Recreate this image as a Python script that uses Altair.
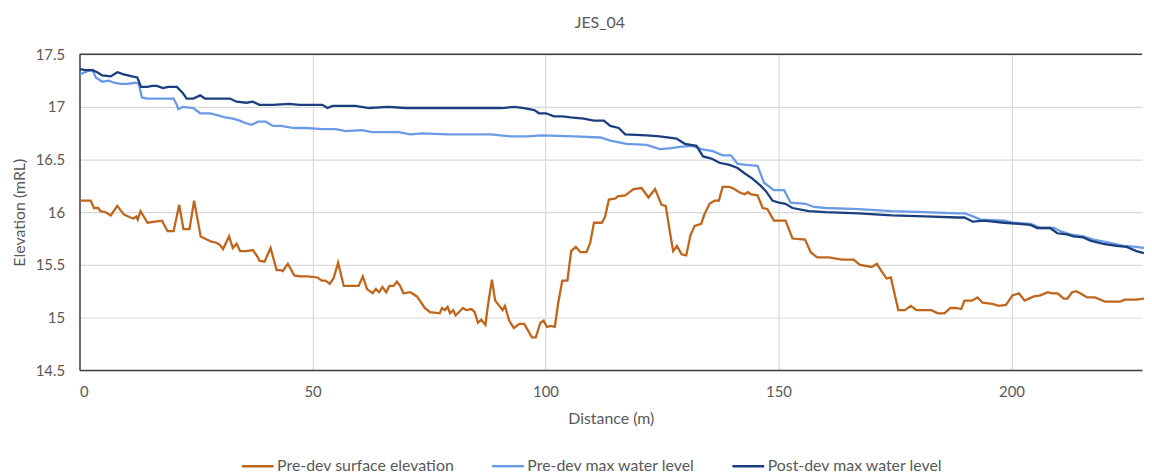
import altair as alt
import pandas as pd

SERIES = ["Pre-dev surface elevation", "Pre-dev max water level", "Post-dev max water level"]
COLORS = ["#C0651C", "#6B9BE4", "#1B3F7E"]

X_TICKS = [0, 50, 100, 150, 200]
Y_TICKS = [14.5, 15, 15.5, 16, 16.5, 17, 17.5]
TOP = [17.5]

ORANGE_X = [0.1, 2.4, 3.1, 4.0, 4.5, 5.6, 6.7, 8.1, 9.5, 10.9, 11.6, 12.2, 12.5, 13.1, 14.6, 17.7, 18.9, 20.2,
            21.4, 22.3, 23.6, 24.6, 26.0, 27.3, 28.3, 29.4, 30.1, 30.8, 32.1, 32.9, 33.7, 34.5, 35.8, 37.2, 38.3,
            38.6, 39.7, 41.0, 42.3, 43.2, 43.6, 44.7, 46.1, 47.2, 48.9, 51.1, 52.0, 52.8, 53.7, 54.5, 55.5, 56.7,
            57.8, 59.9, 60.8, 61.7, 62.9, 63.6, 64.3, 65.0, 65.8, 66.5, 67.4, 68.1, 68.8, 69.5, 71.0, 72.4, 74.1,
            75.2, 77.3, 77.8, 78.4, 79.0, 79.5, 80.2, 80.7, 81.4, 82.3, 83.0, 84.1, 84.8, 85.5, 86.2, 87.1, 87.6,
            88.5, 89.2, 90.1, 90.8, 91.3, 92.2, 93.2, 94.4, 95.4, 96.2, 97.1, 97.9, 98.9, 99.6, 100.3, 101.1,
            102.0, 102.7, 103.6, 104.7, 105.5, 106.5, 107.5, 108.8, 109.6, 110.4, 112.1, 112.8, 113.6, 115.0,
            115.5, 117.1, 118.9, 120.6, 122.1, 123.5, 124.9, 125.8, 126.7, 127.4, 128.2, 129.2, 130.2, 131.1,
            132.0, 133.4, 134.1, 135.2, 136.3, 137.2, 138.0, 139.5, 140.5, 141.6, 142.7, 143.4, 144.1, 145.5,
            146.6, 147.6, 149.0, 151.5, 153.0, 155.7, 156.9, 158.3, 160.8, 163.6, 166.1, 167.5, 170.0, 171.1,
            172.1, 173.2, 174.1, 175.7, 177.1, 178.4, 179.6, 182.8, 184.2, 185.6, 186.9, 188.1, 189.2, 189.9,
            191.5, 192.7, 193.8, 195.9, 197.3, 198.8, 200.2, 201.6, 202.8, 204.8, 206.2, 207.8, 208.7, 209.9,
            211.2, 212.0, 213.0, 213.9, 215.1, 216.2, 217.9, 220.1, 223.3, 224.3, 226.8, 228.4]
ORANGE_Y = [16.11, 16.11, 16.04, 16.04, 16.01, 16.00, 15.97, 16.06, 15.98, 15.95, 15.94, 15.96, 15.93, 16.01,
            15.90, 15.92, 15.82, 15.82, 16.07, 15.84, 15.84, 16.11, 15.77, 15.74, 15.72, 15.71, 15.69, 15.65,
            15.77, 15.66, 15.70, 15.63, 15.63, 15.64, 15.57, 15.54, 15.53, 15.66, 15.45, 15.45, 15.44, 15.51,
            15.40, 15.39, 15.39, 15.38, 15.35, 15.35, 15.32, 15.37, 15.52, 15.30, 15.30, 15.30, 15.39, 15.27,
            15.23, 15.27, 15.24, 15.29, 15.24, 15.30, 15.30, 15.34, 15.30, 15.23, 15.24, 15.20, 15.09, 15.05,
            15.04, 15.09, 15.07, 15.10, 15.04, 15.07, 15.02, 15.05, 15.09, 15.07, 15.08, 15.05, 14.95, 14.98,
            14.93, 15.10, 15.36, 15.16, 15.11, 15.07, 15.11, 14.97, 14.90, 14.94, 14.94, 14.88, 14.81, 14.81,
            14.95, 14.97, 14.91, 14.92, 14.91, 15.13, 15.35, 15.35, 15.63, 15.67, 15.62, 15.62, 15.71, 15.90,
            15.90, 15.96, 16.12, 16.13, 16.15, 16.16, 16.22, 16.23, 16.14, 16.22, 16.07, 16.06, 15.81, 15.63,
            15.68, 15.60, 15.59, 15.78, 15.87, 15.89, 15.98, 16.08, 16.11, 16.11, 16.24, 16.24, 16.22, 16.19,
            16.17, 16.19, 16.17, 16.16, 16.04, 16.03, 15.92, 15.92, 15.75, 15.74, 15.62, 15.57, 15.57, 15.55,
            15.55, 15.50, 15.48, 15.51, 15.44, 15.37, 15.38, 15.07, 15.07, 15.11, 15.07, 15.07, 15.04, 15.04,
            15.09, 15.09, 15.08, 15.16, 15.16, 15.19, 15.14, 15.13, 15.11, 15.12, 15.21, 15.23, 15.16, 15.20,
            15.21, 15.24, 15.23, 15.23, 15.18, 15.18, 15.24, 15.25, 15.22, 15.19, 15.19, 15.15, 15.15, 15.17,
            15.17, 15.18]

PRE_WL_X = [0.1, 1.7, 2.8, 3.5, 4.9, 6.3, 7.4, 8.8, 10.2, 12.0, 12.7, 13.4, 14.5, 16.6, 20.2, 20.9, 21.2, 22.2,
            24.4, 25.9, 28.0, 29.8, 31.2, 32.9, 34.4, 35.4, 36.9, 38.3, 40.0, 41.5, 43.2, 46.1, 48.6, 52.1, 55.0,
            57.1, 60.6, 62.8, 64.9, 68.5, 71.0, 73.4, 79.1, 88.3, 92.6, 96.2, 99.0, 106.1, 111.8, 113.9, 117.4,
            121.7, 124.5, 127.0, 128.8, 131.6, 133.4, 135.9, 138.0, 139.8, 141.2, 143.0, 145.5, 146.9, 149.0,
            151.2, 152.6, 155.8, 157.6, 160.1, 167.2, 174.3, 181.4, 188.5, 189.9, 191.7, 193.4, 198.4, 200.5,
            204.1, 206.2, 209.1, 210.5, 212.6, 215.4, 217.6, 221.1, 224.0, 226.8, 228.4]
PRE_WL_Y = [17.31, 17.34, 17.35, 17.28, 17.24, 17.25, 17.23, 17.22, 17.22, 17.23, 17.22, 17.09, 17.08, 17.08,
            17.08, 17.02, 16.98, 17.00, 16.99, 16.94, 16.94, 16.92, 16.90, 16.89, 16.87, 16.85, 16.83, 16.86,
            16.86, 16.82, 16.82, 16.80, 16.80, 16.79, 16.79, 16.77, 16.78, 16.76, 16.76, 16.76, 16.74, 16.75,
            16.74, 16.74, 16.72, 16.72, 16.73, 16.72, 16.71, 16.68, 16.65, 16.64, 16.60, 16.61, 16.62, 16.63,
            16.60, 16.58, 16.54, 16.54, 16.46, 16.45, 16.44, 16.28, 16.21, 16.21, 16.09, 16.08, 16.05, 16.04,
            16.03, 16.01, 16.00, 15.99, 15.99, 15.96, 15.93, 15.92, 15.90, 15.89, 15.85, 15.85, 15.82, 15.79,
            15.77, 15.74, 15.71, 15.68, 15.67, 15.66]

POST_WL_X = [0.1, 1.3, 2.8, 3.8, 4.9, 6.7, 8.1, 9.5, 11.3, 12.4, 13.2, 14.5, 15.6, 16.6, 17.9, 19.1, 20.9, 22.2,
             23.0, 24.4, 25.9, 26.9, 28.0, 32.3, 33.7, 35.8, 37.2, 38.6, 41.5, 45.0, 47.2, 52.1, 53.2, 54.3, 59.2,
             62.1, 66.3, 69.9, 80.5, 90.5, 93.3, 95.4, 97.6, 98.6, 100.1, 101.8, 103.6, 105.4, 108.2, 110.4,
             112.5, 113.9, 115.7, 117.1, 121.7, 124.5, 128.1, 129.9, 132.4, 133.8, 135.6, 137.3, 139.5, 141.2,
             142.7, 144.4, 146.2, 147.3, 148.7, 150.1, 151.5, 153.0, 156.5, 160.1, 167.2, 174.3, 181.4, 188.5,
             189.9, 191.7, 194.1, 198.4, 204.1, 205.5, 208.3, 209.8, 211.9, 213.3, 215.4, 216.9, 219.7, 222.5,
             224.7, 226.8, 228.4]
POST_WL_Y = [17.36, 17.35, 17.35, 17.33, 17.30, 17.29, 17.33, 17.31, 17.29, 17.28, 17.19, 17.19, 17.20, 17.20,
             17.18, 17.19, 17.19, 17.13, 17.08, 17.08, 17.11, 17.08, 17.08, 17.08, 17.05, 17.04, 17.05, 17.02,
             17.02, 17.03, 17.02, 17.02, 16.99, 17.01, 17.01, 16.99, 17.00, 16.99, 16.99, 16.99, 17.00, 16.99,
             16.97, 16.94, 16.94, 16.91, 16.91, 16.90, 16.89, 16.87, 16.87, 16.82, 16.80, 16.74, 16.73, 16.72,
             16.70, 16.65, 16.63, 16.53, 16.51, 16.47, 16.45, 16.42, 16.37, 16.32, 16.25, 16.20, 16.11, 16.09,
             16.08, 16.04, 16.01, 16.00, 15.99, 15.97, 15.96, 15.95, 15.95, 15.91, 15.92, 15.90, 15.88, 15.85,
             15.85, 15.80, 15.79, 15.77, 15.76, 15.73, 15.70, 15.68, 15.67, 15.63, 15.61]

rows = []
for name, xs, ys in zip(SERIES, [ORANGE_X, PRE_WL_X, POST_WL_X], [ORANGE_Y, PRE_WL_Y, POST_WL_Y]):
    for i, (xv, yv) in enumerate(zip(xs, ys)):
        rows.append({"Distance": xv, "Elevation": yv, "Series": name, "idx": i})
df = pd.DataFrame(rows)

FONT = "Lato"
TXT = "#595959"

x_enc = alt.X(
    "Distance:Q",
    scale=alt.Scale(domain=[0, 228], nice=False, zero=False),
    axis=alt.Axis(
        title="Distance (m)", values=X_TICKS, ticks=False, tickSize=0, labelPadding=15,
        titlePadding=11, domainColor="#404040", domainWidth=1.5, gridColor="#D9D9D9",
        gridWidth=1.2,
    ),
)
y_enc = alt.Y(
    "Elevation:Q",
    scale=alt.Scale(domain=[14.5, 17.5], nice=False, zero=False),
    axis=alt.Axis(
        title="Elevation (mRL)", values=Y_TICKS, ticks=False, tickSize=0, labelPadding=15,
        titlePadding=8, labelExpr="'' + datum.value", domainColor="#404040", domainWidth=1.5,
        gridColor="#D9D9D9", gridWidth=1.2,
    ),
)

lines = alt.Chart(df).mark_line(strokeWidth=2.3).encode(
    x=x_enc,
    y=y_enc,
    color=alt.Color(
        "Series:N",
        scale=alt.Scale(domain=SERIES, range=COLORS),
        legend=alt.Legend(
            title=None, orient="none", legendX=162, legendY=397, direction="horizontal",
            symbolType="stroke", symbolSize=1024, symbolStrokeWidth=2.5, labelFontSize=16,
            labelFont=FONT, labelColor=TXT, columnPadding=32, labelOffset=2, labelLimit=0,
        ),
    ),
    order="idx:Q",
)

top_rule = alt.Chart(pd.DataFrame({"y": TOP})).mark_rule(color="#404040", strokeWidth=1.5).encode(
    y=alt.Y("y:Q")
)

chart = (
    alt.layer(lines, top_rule)
    .properties(
        width=1070,
        height=318,
        autosize=alt.AutoSizeParams(type="none"),
        padding={"left": 72, "top": 45, "right": 2, "bottom": 108},
        title=alt.TitleParams(
            "JES_04", fontSize=16, font=FONT, color=TXT, fontWeight="normal",
            anchor="middle", offset=17, dx=-11,
        ),
    )
    .configure_view(stroke=None)
    .configure_axis(
        labelFont=FONT, titleFont=FONT, labelFontSize=15, titleFontSize=16,
        labelColor=TXT, titleColor=TXT, titleFontWeight="normal",
    )
)

chart.save("out.html", embed_options={"renderer": "svg", "actions": False})
